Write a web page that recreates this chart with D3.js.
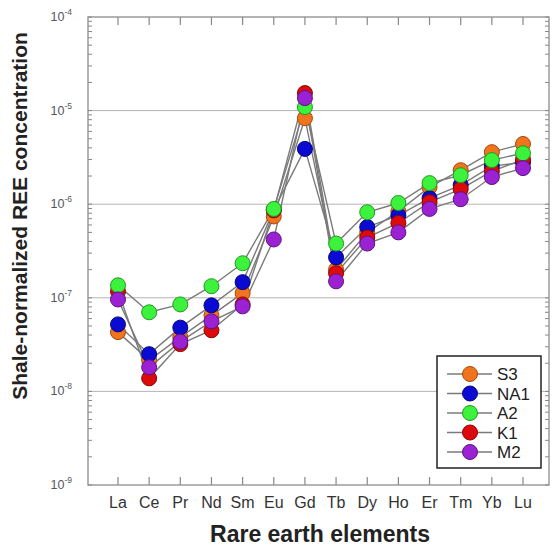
<!DOCTYPE html>
<html>
<head>
<meta charset="utf-8">
<script src="https://cdn.jsdelivr.net/npm/d3@7"></script>
<style>
  body { margin: 0; background: #fff; }
  svg { display: block; font-family: "Liberation Sans", Arial, Helvetica, sans-serif; }
</style>
</head>
<body>
<div id="chart"></div>
<script>
// REE elements along the x axis
var elements = ["La", "Ce", "Pr", "Nd", "Sm", "Eu", "Gd", "Tb", "Dy", "Ho", "Er", "Tm", "Yb", "Lu"];

// shale-normalized concentrations
var S3  = [4.3e-8, 2.15e-8, 3.8e-8, 6.5e-8, 1.12e-7, 7.4e-7, 8.3e-6, 2.0e-7, 5.0e-7, 8.4e-7, 1.52e-6, 2.31e-6, 3.6e-6, 4.4e-6];
var NA1 = [5.2e-8, 2.5e-8, 4.8e-8, 8.3e-8, 1.47e-7, 8.7e-7, 3.9e-6, 2.7e-7, 5.7e-7, 7.6e-7, 1.16e-6, 1.6e-6, 2.55e-6, 2.8e-6];
var A2  = [1.36e-7, 7.0e-8, 8.5e-8, 1.33e-7, 2.34e-7, 8.9e-7, 1.09e-5, 3.8e-7, 8.2e-7, 1.03e-6, 1.68e-6, 2.04e-6, 2.96e-6, 3.5e-6];
var K1  = [1.17e-7, 1.38e-8, 3.2e-8, 4.5e-8, 8.5e-8, 8.6e-7, 1.54e-5, 1.83e-7, 4.4e-7, 6.3e-7, 1.05e-6, 1.45e-6, 2.25e-6, 3.0e-6];
var M2  = [9.6e-8, 1.81e-8, 3.4e-8, 5.6e-8, 8.1e-8, 4.2e-7, 1.36e-5, 1.5e-7, 3.8e-7, 5.0e-7, 8.9e-7, 1.13e-6, 1.95e-6, 2.43e-6];

var seriesNames = ["S3", "NA1", "A2", "K1", "M2"];
var seriesValues = [S3, NA1, A2, K1, M2];
var fills   = ["#f0731e", "#0a0ad2", "#3cf23c", "#dc0a0a", "#9a22d2"];
var strokes = ["#a44a10", "#05057a", "#1f9a1f", "#8a0606", "#5e137f"];
// order in which the markers are stacked (last on top)
var drawOrder = [0, 1, 3, 2, 4];

var decades = [1e-9, 1e-8, 1e-7, 1e-6, 1e-5, 1e-4];

var width = 552, height = 548;
var plotLeft = 88, plotRight = 549, plotTop = 17, plotBottom = 485;

var svg = d3.select("#chart").append("svg")
  .attr("width", width)
  .attr("height", height);

var x = d3.scalePoint().domain(elements).range([118, 523]);
var y = d3.scaleLog().domain([1e-9, 1e-4]).range([plotBottom, plotTop]);

// decade grid lines
svg.selectAll("line.grid")
  .data(decades.slice(1, -1))
  .enter().append("line")
  .attr("class", "grid")
  .attr("x1", plotLeft).attr("x2", plotRight)
  .attr("y1", function(d) { return y(d); })
  .attr("y2", function(d) { return y(d); })
  .attr("stroke", "#b4b4b4")
  .attr("stroke-width", 1);

// minor ticks on left and right (inside)
var minor = y.ticks();
svg.selectAll("line.ytl")
  .data(minor)
  .enter().append("line")
  .attr("class", "ytl")
  .attr("x1", plotLeft).attr("x2", plotLeft + 4)
  .attr("y1", function(d) { return y(d); })
  .attr("y2", function(d) { return y(d); })
  .attr("stroke", "#888");
svg.selectAll("line.ytr")
  .data(minor)
  .enter().append("line")
  .attr("class", "ytr")
  .attr("x1", plotRight).attr("x2", plotRight - 4)
  .attr("y1", function(d) { return y(d); })
  .attr("y2", function(d) { return y(d); })
  .attr("stroke", "#888");

// x ticks at top and bottom, pointing inward
svg.selectAll("line.xtb")
  .data(elements)
  .enter().append("line")
  .attr("class", "xtb")
  .attr("x1", function(d) { return x(d); })
  .attr("x2", function(d) { return x(d); })
  .attr("y1", plotBottom).attr("y2", plotBottom - 8)
  .attr("stroke", "#888").attr("stroke-width", 1.2);
svg.selectAll("line.xtt")
  .data(elements)
  .enter().append("line")
  .attr("class", "xtt")
  .attr("x1", function(d) { return x(d); })
  .attr("x2", function(d) { return x(d); })
  .attr("y1", plotTop).attr("y2", plotTop + 8)
  .attr("stroke", "#888").attr("stroke-width", 1.2);

// frame
svg.append("rect")
  .attr("x", plotLeft).attr("y", plotTop)
  .attr("width", plotRight - plotLeft).attr("height", plotBottom - plotTop)
  .attr("fill", "none")
  .attr("stroke", "#8c8c8c")
  .attr("stroke-width", 1.3);

// y tick labels 10^n
var ylab = svg.selectAll("text.ylab")
  .data(decades)
  .enter().append("text")
  .attr("class", "ylab")
  .attr("x", 72)
  .attr("y", function(d) { return y(d) + 4; })
  .attr("text-anchor", "end")
  .attr("fill", "#555")
  .attr("font-size", 12.5);
ylab.append("tspan").text("10");
ylab.append("tspan")
  .attr("dy", -6)
  .attr("font-size", 8.5)
  .text(function(d) { return "-" + Math.round(-Math.log10(d)); });

// x tick labels
svg.selectAll("text.xlab")
  .data(elements)
  .enter().append("text")
  .attr("class", "xlab")
  .attr("x", function(d) { return x(d); })
  .attr("y", 508)
  .attr("text-anchor", "middle")
  .attr("fill", "#333")
  .attr("font-size", 16)
  .text(function(d) { return d; });

// axis titles
svg.append("text")
  .attr("x", 320).attr("y", 542)
  .attr("text-anchor", "middle")
  .attr("font-weight", "bold")
  .attr("font-size", 23)
  .attr("fill", "#222")
  .text("Rare earth elements");

svg.append("text")
  .attr("transform", "translate(27,216) rotate(-90)")
  .attr("text-anchor", "middle")
  .attr("font-weight", "bold")
  .attr("font-size", 21)
  .attr("fill", "#222")
  .text("Shale-normalized REE concentration");

// lines
var line = d3.line()
  .x(function(d, i) { return x(elements[i]); })
  .y(function(d) { return y(d); });

svg.selectAll("path.series")
  .data(seriesValues)
  .enter().append("path")
  .attr("class", "series")
  .attr("d", line)
  .attr("fill", "none")
  .attr("stroke", "#7a7a7a")
  .attr("stroke-width", 1.4);

// markers, drawn series by series so later ones sit on top
drawOrder.forEach(function(s) {
  svg.append("g").selectAll("circle")
    .data(seriesValues[s])
    .enter().append("circle")
    .attr("cx", function(d, i) { return x(elements[i]); })
    .attr("cy", function(d) { return y(d); })
    .attr("r", 7.5)
    .attr("fill", fills[s])
    .attr("stroke", strokes[s])
    .attr("stroke-width", 1);
});

// legend
var lg = svg.append("g");
lg.append("rect")
  .attr("x", 437).attr("y", 356)
  .attr("width", 104).attr("height", 112)
  .attr("fill", "#fff")
  .attr("stroke", "#222")
  .attr("stroke-width", 1.5);

var items = lg.selectAll("g.item")
  .data(seriesNames)
  .enter().append("g")
  .attr("class", "item")
  .attr("transform", function(d, i) { return "translate(0," + (374 + i * 19.5) + ")"; });
items.append("line")
  .attr("x1", 447).attr("x2", 492)
  .attr("stroke", "#7a7a7a").attr("stroke-width", 1.4);
items.append("circle")
  .attr("cx", 470).attr("r", 7.5)
  .attr("fill", function(d, i) { return fills[i]; })
  .attr("stroke", function(d, i) { return strokes[i]; });
items.append("text")
  .attr("x", 497).attr("y", 6)
  .attr("font-size", 17)
  .attr("fill", "#222")
  .text(function(d) { return d; });
</script>
</body>
</html>
